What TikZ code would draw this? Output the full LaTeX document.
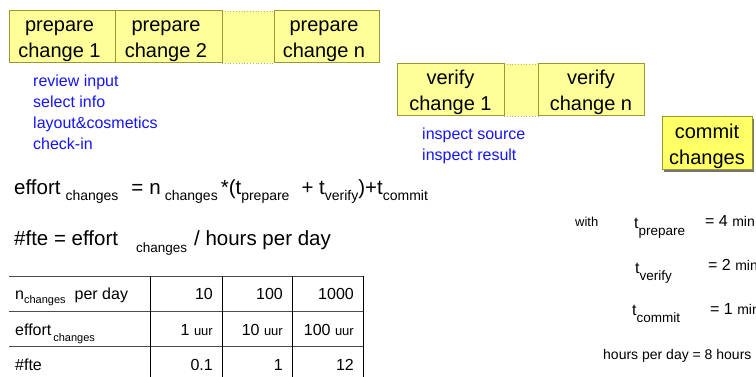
\documentclass[tikz,border=0pt]{standalone}
\usepackage{fontspec}
\setmainfont{Liberation Sans}
\usetikzlibrary{shadows}
\definecolor{boxfill}{HTML}{FFFF99}
\definecolor{boxline}{HTML}{999933}
\definecolor{commitfill}{HTML}{FFFF66}
\definecolor{notecol}{HTML}{1414FF}
\newcommand{\fsz}[1]{\fontsize{#1}{#1}\selectfont}
\newcommand{\sbs}[3]{\raisebox{-#1pt}{\fontsize{#2}{#2}\selectfont #3}}
\begin{document}
\begin{tikzpicture}[x=1pt,y=-1pt,
  stepbox/.style={draw=boxline, fill=boxfill, line width=1pt, minimum height=52pt,
    inner sep=0pt, outer sep=0pt, align=center, font=\fontsize{20}{26}\selectfont, anchor=north west},
  gapbox/.style={fill=boxfill, draw=none, minimum height=52pt, inner sep=0pt, outer sep=0pt, anchor=north west},
  gapline/.style={draw=boxline!70, line width=0.8pt, dotted},
  commitbox/.style={stepbox, fill=commitfill, minimum height=53pt,
    drop shadow={shadow xshift=1.8pt, shadow yshift=-1.8pt, fill=black!55, opacity=1}},
  note/.style={text=notecol, font=\fontsize{16}{21}\selectfont, align=left, inner sep=0pt, anchor=north west},
  txt/.style={inner sep=0pt, anchor=base west},
  rtxt/.style={inner sep=0pt, anchor=base east},
  hline/.style={draw=black!70, line width=0.9pt},
  vline/.style={draw=black, line width=0.9pt}]
\useasboundingbox (0,0) rectangle (756,377);

% prepare row
\node[gapbox, minimum width=52pt] (pg) at (222,11) {};
\draw[gapline] (pg.north west) -- (pg.north east);
\draw[gapline] (pg.south west) -- (pg.south east);
\node[stepbox, minimum width=106pt] (p1) at (9,11) {\rule{0pt}{20pt}prepare\hspace*{5pt}\\change 1\hspace*{5pt}};
\node[stepbox, minimum width=107pt] (p2) at (115,11) {\rule{0pt}{20pt}prepare\hspace*{5pt}\\change 2\hspace*{5pt}};
\node[stepbox, minimum width=105pt] (pn) at (274,11) {\rule{0pt}{20pt}prepare\hspace*{5pt}\\change n\hspace*{5pt}};

\node[note] (prepnote) at (33,72) {\rule{0pt}{14pt}review input\\select info\\layout\&cosmetics\\check-in};

% verify row
\node[gapbox, minimum width=34pt] (vg) at (504,64) {};
\draw[gapline] (vg.north west) -- (vg.north east);
\draw[gapline] (vg.south west) -- (vg.south east);
\node[stepbox, minimum width=107pt] (v1) at (397,64) {\rule{0pt}{20pt}verify\\change 1};
\node[stepbox, minimum width=106pt] (vn) at (538,64) {\rule{0pt}{20pt}verify\\change n};

\node[note] (vernote) at (422,125) {\rule{0pt}{14pt}inspect source\\inspect result};

% commit
\node[commitbox, minimum width=90pt] (cm) at (662,117) {\rule{0pt}{20pt}commit\\changes};

% formulas
\node[txt, font=\fsz{20.5}] (f1) at (14,195) {effort\hspace{5pt}\sbs{6}{14}{changes}\hspace{13pt}=\hspace{6pt}n\hspace{4pt}\sbs{6}{14}{changes}\hspace{3pt}*(t\sbs{6}{14}{prepare}\hspace{12pt}+ t\sbs{6}{14}{verify})+t\sbs{6}{14}{commit}};
\node[txt, font=\fsz{20.5}] (f2) at (14,246) {\#fte = effort\hspace{18pt}\sbs{7}{13.5}{changes}\hspace{7pt}/ hours per day};

% table
\draw[hline] (9,276) -- (363,276);
\draw[hline] (9,311) -- (363,311);
\draw[hline] (9,346) -- (363,346);
\draw[vline] (150,276) -- (150,380);
\draw[vline] (222,276) -- (222,380);
\draw[vline] (292,276) -- (292,380);
\draw[vline] (363,276) -- (363,380);

\node[txt, font=\fsz{16}] (r1) at (15,299) {n\sbs{4}{11}{changes}\hspace{9pt}per day};
\node[rtxt, font=\fsz{16}] (r1a) at (213,299) {10};
\node[rtxt, font=\fsz{16}] (r1b) at (283,299) {100};
\node[rtxt, font=\fsz{16}] (r1c) at (354,299) {1000};

\node[txt, font=\fsz{16}] (r2) at (15,335) {effort\hspace{2pt}\sbs{6}{11}{changes}};
\node[rtxt, font=\fsz{16}] (r2a) at (213,335) {1 {\fsz{13}uur}};
\node[rtxt, font=\fsz{16}] (r2b) at (283,335) {10 {\fsz{13}uur}};
\node[rtxt, font=\fsz{16}] (r2c) at (354,335) {100 {\fsz{13}uur}};

\node[txt, font=\fsz{16}] (r3) at (15,370) {\#fte};
\node[rtxt, font=\fsz{16}] (r3a) at (213,370) {0.1};
\node[rtxt, font=\fsz{16}] (r3b) at (283,370) {1};
\node[rtxt, font=\fsz{16}] (r3c) at (354,370) {12};

% right-hand parameters
\node[txt, font=\fsz{13}] (with) at (575,227) {with};
\node[txt, font=\fsz{16}] (tp) at (634,229) {t\sbs{7}{13.5}{prepare}};
\node[txt, font=\fsz{16}] (tpv) at (705,227) {= 4 {\fsz{14}min}};
\node[txt, font=\fsz{16}] (tv) at (635,273) {t\sbs{7}{13.5}{verify}};
\node[txt, font=\fsz{16}] (tvv) at (708,271) {= 2 {\fsz{14}min}};
\node[txt, font=\fsz{16}] (tc) at (632,316) {t\sbs{7}{13.5}{commit}};
\node[txt, font=\fsz{16}] (tcv) at (710,314) {= 1 {\fsz{14}min}};
\node[txt, font=\fsz{14}] (hpd) at (603,359) {hours per day = 8 hours};
\end{tikzpicture}
\end{document}
